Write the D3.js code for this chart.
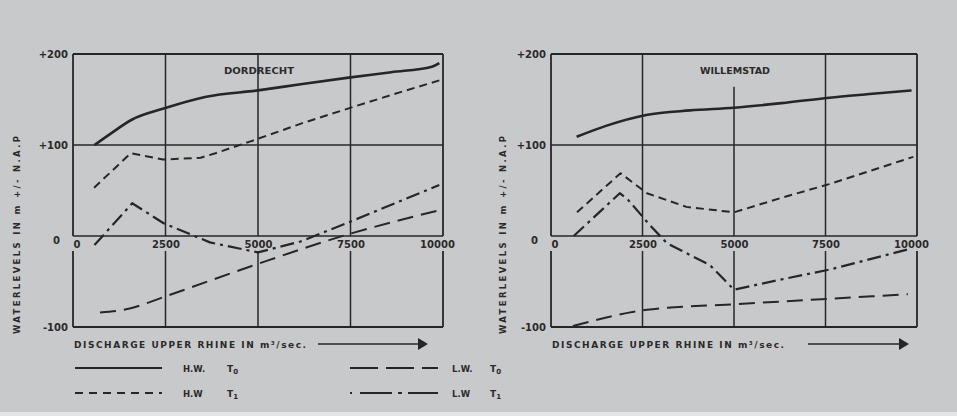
<!DOCTYPE html>
<html><head><meta charset="utf-8">
<script src="https://cdn.jsdelivr.net/npm/d3@7/dist/d3.min.js"></script>
<style>
html,body{margin:0;padding:0;background:#c8c9cb;}
svg{display:block;}
text{font-family:"DejaVu Sans",sans-serif;font-weight:bold;fill:#2a2a2a;}
</style></head>
<body>
<svg id="c" width="957" height="416"></svg>
<script>
// ---- data ----
const xTicks = [0, 2500, 5000, 7500, 10000];
const xTickLabels = ["0", "2500", "5000", "7500", "10000"];
const yTicks = [200, 100, 0, -100];
const yTickLabels = ["+200", "+100", "0", "-100"];

const dorHWT0x = [580, 1000, 1600, 2450, 3600, 5000, 6200, 7450, 8600, 9700, 9900];
const dorHWT0y = [100, 112, 128, 140, 153, 160, 167, 174, 180, 186, 190];
const dorHWT1x = [570, 1560, 2430, 3450, 3850, 4800, 6200, 7430, 8600, 9900];
const dorHWT1y = [53, 91, 84, 86, 91, 104, 124, 140, 155, 171];
const dorLWT0x = [730, 1500, 2450, 4900, 7450, 9970];
const dorLWT0y = [-84, -80, -67, -32, 2, 29];
const dorLWT1x = [580, 1600, 2450, 3700, 5000, 6150, 7450, 9900];
const dorLWT1y = [-10, 36, 14, -7, -18, -6, 15, 56];

const wilHWT0x = [700, 1500, 2600, 3800, 5000, 6300, 7600, 8700, 9850];
const wilHWT0y = [109, 121, 133, 138, 141, 146, 152, 156, 160];
const wilHWT1x = [710, 1900, 2620, 3700, 5000, 6300, 7600, 9900];
const wilHWT1y = [26, 69, 47, 32, 26, 42, 57, 87];
const wilLWT0x = [600, 2620, 5000, 7600, 9750];
const wilLWT0y = [-99, -81, -75, -69, -64];
const wilLWT1x = [620, 1880, 2100, 2700, 3170, 4340, 5000, 6260, 7600, 9730];
const wilLWT1y = [0, 47, 40, 12, -8, -32, -59, -48, -37, -15];

const titles = ["DORDRECHT", "WILLEMSTAD"];
const legendNames = ["H.W.", "H.W", "L.W.", "L.W"];
const legendSubs = ["0", "1", "0", "1"];

// ---- styles ----
const styles = {
  hwT0: {w: 2.6, dash: null, curve: d3.curveMonotoneX},
  hwT1: {w: 2, dash: "8,5", curve: d3.curveLinear},
  lwT0: {w: 2, dash: "16,8", curve: d3.curveMonotoneX},
  lwT1: {w: 2.2, dash: "14,5,3,5", curve: d3.curveLinear}
};
const ink = "#262626";

const svg = d3.select("#c");
svg.append("rect").attr("x",0).attr("y",412).attr("width",957).attr("height",4).attr("fill","#e4e5e6");

function zip(xs, ys){ return xs.map((x,i)=>[x, ys[i]]); }

const charts = [
  {x0:73, x1:443, title:titles[0], series:{
     hwT0: zip(dorHWT0x, dorHWT0y), hwT1: zip(dorHWT1x, dorHWT1y),
     lwT0: zip(dorLWT0x, dorLWT0y), lwT1: zip(dorLWT1x, dorLWT1y)},
   vTopStart:{}, labelX:20, arrow:[318,428]},
  {x0:551, x1:917, title:titles[1], series:{
     hwT0: zip(wilHWT0x, wilHWT0y), hwT1: zip(wilHWT1x, wilHWT1y),
     lwT0: zip(wilLWT0x, wilLWT0y), lwT1: zip(wilLWT1x, wilLWT1y)},
   vTopStart:{5000:164}, labelX:506, arrow:[808,909]}
];

charts.forEach(c => {
  const x = d3.scaleLinear().domain([0,10000]).range([c.x0, c.x1]);
  const y = d3.scaleLinear().domain([-100,200]).range([327,54]);
  const g = svg.append("g");
  const gapBottom = 251;

  g.selectAll("line.h").data(yTicks).enter().append("line")
    .attr("x1", x(0)).attr("x2", x(10000))
    .attr("y1", d=>y(d)).attr("y2", d=>y(d))
    .attr("stroke", ink).attr("stroke-width", d => (d===200||d===-100)?1.8:1.6);
  xTicks.forEach(t => {
    const top = c.vTopStart[t] !== undefined ? y(c.vTopStart[t]) : y(200);
    const w = (t===0||t===10000)?1.8:1.5;
    g.append("line").attr("x1",x(t)).attr("x2",x(t)).attr("y1",top).attr("y2",y(0))
      .attr("stroke",ink).attr("stroke-width",w);
    g.append("line").attr("x1",x(t)).attr("x2",x(t)).attr("y1",gapBottom).attr("y2",y(-100))
      .attr("stroke",ink).attr("stroke-width",w);
  });

  const xa = d3.axisBottom(x).tickValues(xTicks).tickSize(0).tickPadding(5)
    .tickFormat((d,i)=>xTickLabels[i]);
  const xg = g.append("g").attr("transform",`translate(0,${y(0)})`).call(xa);
  xg.select(".domain").remove();
  xg.selectAll("text").attr("font-size",10).attr("fill","#2a2a2a")
    .attr("font-family","DejaVu Sans").attr("font-weight","bold")
    .attr("text-anchor",(d)=> d===0?"start":"middle")
    .attr("dx",(d)=> d===10000?-6:0);

  const ya = d3.axisLeft(y).tickValues(yTicks).tickSize(0).tickPadding(5)
    .tickFormat((d,i)=>yTickLabels[i]);
  const yg = g.append("g").attr("transform",`translate(${x(0)},0)`).call(ya);
  yg.select(".domain").remove();
  yg.selectAll("text").attr("font-size",10).attr("fill","#2a2a2a")
    .attr("font-family","DejaVu Sans").attr("font-weight","bold")
    .attr("dx",(d)=> d===0?-8:0).attr("dy",(d)=> d===0?"0.75em":"0.32em");

  g.append("text").attr("x",(x(0)+x(10000))/2+1).attr("y",74).attr("text-anchor","middle")
    .attr("font-size",9.5).attr("textLength",70).attr("lengthAdjust","spacingAndGlyphs").text(c.title);

  g.append("text").attr("transform",`translate(${c.labelX},${235}) rotate(-90)`)
    .attr("text-anchor","middle").attr("font-size",8.5).attr("textLength",198)
    .attr("lengthAdjust","spacing").text("WATERLEVELS IN m +/- N.A.P");

  g.append("text").attr("x",x(0)+1).attr("y",348).attr("font-size",9)
    .attr("textLength",232).attr("lengthAdjust","spacing")
    .text("DISCHARGE UPPER RHINE IN m³/sec.");
  g.append("line").attr("x1",c.arrow[0]).attr("x2",c.arrow[1]-8).attr("y1",344).attr("y2",344)
    .attr("stroke",ink).attr("stroke-width",1.6);
  g.append("path").attr("d",`M${c.arrow[1]-10},338 L${c.arrow[1]},344 L${c.arrow[1]-10},350 Z`).attr("fill",ink);

  Object.keys(styles).forEach(k => {
    const s = styles[k];
    const line = d3.line().x(d=>x(d[0])).y(d=>y(d[1])).curve(s.curve);
    g.append("path").datum(c.series[k]).attr("d",line).attr("fill","none")
      .attr("stroke",ink).attr("stroke-width",s.w)
      .attr("stroke-dasharray",s.dash).attr("stroke-linecap","butt").attr("stroke-linejoin","round");
  });
});

// legend
const legendItems = [
  {key:"hwT0", x:75, y:368, tx:183, sx:227, i:0},
  {key:"hwT1", x:75, y:393, tx:183, sx:227, i:1},
  {key:"lwT0", x:350, y:368, tx:452, sx:490, i:2},
  {key:"lwT1", x:350, y:393, tx:452, sx:490, i:3}
];
const legendDash = {hwT0:null, hwT1:"8,6", lwT0:"28,8", lwT1:"2,8,32,6,4,6,32"};
const lg = svg.append("g");
legendItems.forEach(it => {
  lg.append("line").attr("x1",it.x).attr("x2",it.key.startsWith("hw")?it.x+87:it.x+88)
    .attr("y1",it.y).attr("y2",it.y)
    .attr("stroke",ink).attr("stroke-width",1.8).attr("stroke-dasharray",legendDash[it.key]);
  lg.append("text").attr("x",it.tx).attr("y",it.y+3.5).attr("font-size",8.5).text(legendNames[it.i]);
  const t = lg.append("text").attr("x",it.sx).attr("y",it.y+3.5).attr("font-size",9);
  t.append("tspan").text("T");
  t.append("tspan").attr("font-size",7).attr("dy",2).text(legendSubs[it.i]);
});
</script>
</body></html>
